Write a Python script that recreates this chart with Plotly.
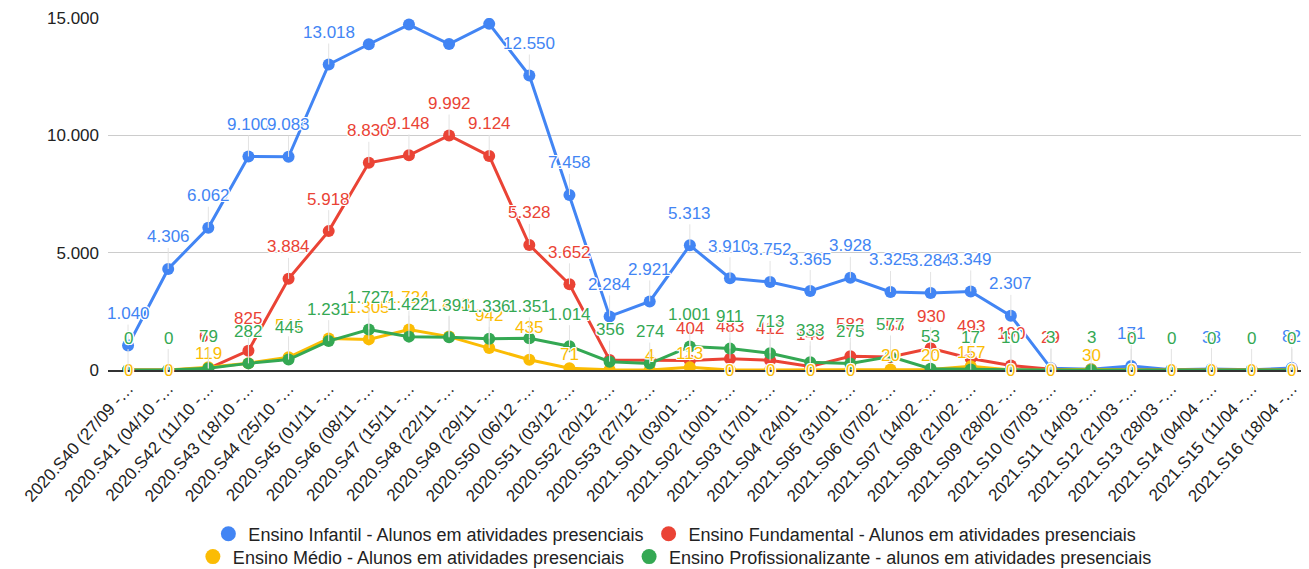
import plotly.graph_objects as go

weeks = ["2020.S40 (27/09", "2020.S41 (04/10", "2020.S42 (11/10", "2020.S43 (18/10",
         "2020.S44 (25/10", "2020.S45 (01/11", "2020.S46 (08/11", "2020.S47 (15/11",
         "2020.S48 (22/11", "2020.S49 (29/11", "2020.S50 (06/12", "2020.S51 (03/12",
         "2020.S52 (20/12", "2020.S53 (27/12", "2021.S01 (03/01", "2021.S02 (10/01",
         "2021.S03 (17/01", "2021.S04 (24/01", "2021.S05 (31/01", "2021.S06 (07/02",
         "2021.S07 (14/02", "2021.S08 (21/02", "2021.S09 (28/02", "2021.S10 (07/03",
         "2021.S11 (14/03", "2021.S12 (21/03", "2021.S13 (28/03", "2021.S14 (04/04",
         "2021.S15 (11/04", "2021.S16 (18/04"]
tick_labels = [w + " -\u2026" for w in weeks]

infantil = [1040, 4306, 6062, 9100, 9083, 13018, 13880, 14720, 13890, 14750,
            12550, 7458, 2284, 2921, 5313, 3910, 3752, 3365, 3928, 3325,
            3284, 3349, 2307, 70, 30, 171, 15, 38, 12, 82]
fundamental = [0, 0, 60, 825, 3884, 5918, 8830, 9148, 9992, 9124,
               5328, 3652, 426, 415, 404, 483, 412, 146, 582, 553,
               930, 493, 190, 29, 0, 5, 0, 0, 0, 4]
medio = [0, 0, 119, 290, 541, 1340, 1305, 1724, 1423, 942,
         435, 71, 10, 4, 113, 0, 0, 0, 0, 20,
         20, 157, 0, 0, 30, 0, 0, 0, 0, 0]
profissional = [0, 0, 79, 282, 445, 1231, 1727, 1422, 1391, 1336,
                1351, 1014, 356, 274, 1001, 911, 713, 333, 275, 577,
                53, 17, 10, 3, 3, 0, 0, 0, 0, 0]

names = ["Ensino Infantil - Alunos em atividades presenciais",
         "Ensino Fundamental - Alunos em atividades presenciais",
         "Ensino Médio - Alunos em atividades presenciais",
         "Ensino Profissionalizante - alunos em atividades presenciais"]
colors = ["#4285F4", "#EA4335", "#FBBC04", "#34A853"]
series = [infantil, fundamental, medio, profissional]
# labels that the original chart hides because of collisions
hidden = [{6, 7, 8, 9, 23, 24, 26, 28},
          {0, 1, 12, 13, 24, 26, 27, 28},
          {3, 5, 12},
          set()]

FONT = "Liberation Sans, Arial, sans-serif"

def fmt(v):
    return f"{v:,}".replace(",", ".")

fig = go.Figure()
for name, col, vals in zip(names, colors, series):
    fig.add_trace(go.Scatter(
        x=weeks, y=vals, mode="lines+markers", name=name,
        line=dict(color=col, width=3), marker=dict(color=col, size=12),
        showlegend=False, hoverinfo="skip"))

# legend-only entries (circles)
for i, (name, col) in enumerate(zip(names, colors)):
    fig.add_trace(go.Scatter(
        x=[None], y=[None], mode="markers", name=name,
        marker=dict(color=col, size=15),
        legend="legend" if i < 2 else "legend2"))

halo = "1px 1px 0 #fff, -1px -1px 0 #fff, 1px -1px 0 #fff, -1px 1px 0 #fff, 0 1px 0 #fff, 0 -1px 0 #fff, 1px 0 0 #fff, -1px 0 0 #fff"
annotations = []
for si, (col, vals) in enumerate(zip(colors, series)):
    for i, (w, v) in enumerate(zip(weeks, vals)):
        if i in hidden[si]:
            continue
        if si == 2 and v == 0:
            off = 0
        elif si == 2 and v < 200:
            off = -14
        else:
            off = -32
        a = dict(x=w, y=v, xref="x", yref="y", text=fmt(v),
                 font=dict(family=FONT, size=17, color=col, shadow=halo))
        if off <= -20:
            a.update(showarrow=True, arrowhead=0, arrowwidth=1,
                     arrowcolor="#e3e3e3", ax=0, ay=off, standoff=0)
        else:
            a.update(showarrow=False, yshift=-off)
        annotations.append(a)

# the page body adds an 8px offset, so the figure is 8px smaller
fig.update_layout(
    width=1301, height=561,
    margin=dict(l=100, r=0, t=10, b=199, autoexpand=False),
    paper_bgcolor="white", plot_bgcolor="white",
    separators=",.",
    font=dict(family=FONT, size=17, color="#222222"),
    annotations=annotations,
    xaxis=dict(type="category", range=[-0.5, 29.43], showgrid=False,
               tickmode="array", tickvals=weeks, ticktext=tick_labels,
               tickangle=-48, tickfont=dict(size=17, color="#222222"),
               showline=True, linecolor="#333333", linewidth=1.5,
               ticks="", zeroline=False, fixedrange=True, automargin=False),
    yaxis=dict(range=[0, 15000], dtick=5000, tickformat=",d",
               gridcolor="#cccccc", gridwidth=1, zeroline=False,
               tickfont=dict(size=17, color="#222222"), ticks="",
               ticklabelstandoff=8, fixedrange=True, automargin=False),
    legend=dict(orientation="h", x=0.472, xanchor="center",
                y=-0.466, yanchor="middle",
                font=dict(family=FONT, size=18, color="#222222"),
                itemwidth=30, bgcolor="rgba(0,0,0,0)"),
    legend2=dict(orientation="h", x=0.472, xanchor="center",
                 y=-0.531, yanchor="middle",
                 font=dict(family=FONT, size=18, color="#222222"),
                 itemwidth=30, bgcolor="rgba(0,0,0,0)"),
)

fig.write_html("out.html")
